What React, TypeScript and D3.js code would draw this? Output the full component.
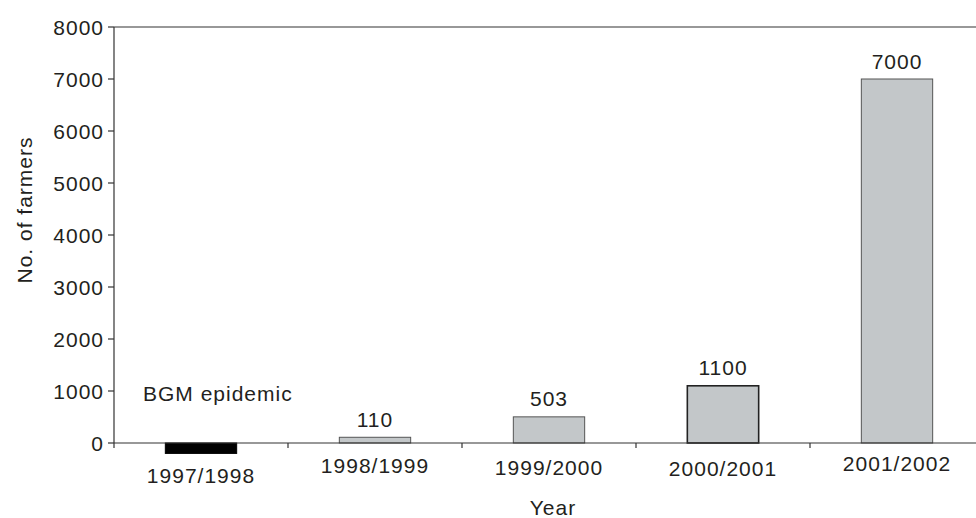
import React from "react";
import * as d3 from "d3";

const categories = ["1997/1998", "1998/1999", "1999/2000", "2000/2001", "2001/2002"];
const farmers = [-200, 110, 503, 1100, 7000];
const valueLabels = ["", "110", "503", "1100", "7000"];
const yTicks = [0, 1000, 2000, 3000, 4000, 5000, 6000, 7000, 8000];
const annotation = "BGM epidemic";
const xTitle = "Year";
const yTitle = "No. of farmers";

const W = 976;
const H = 518;
const X0 = 114;
const X1 = 984;
const Y0 = 443;
const Y1 = 27;
const labelDy = [9, -1, 1, 2, -3];
const FONT = "'Liberation Sans', Arial, sans-serif";
const TEXT = "#231f20";

export default function App() {
  const x = d3.scaleBand<string>().domain(categories).range([X0, X1]).paddingInner(0.59).paddingOuter(0.295);
  const y = d3.scaleLinear().domain([0, 8000]).range([Y0, Y1]);
  const step = x.step();
  const txt = { fontFamily: FONT, fontSize: 21, fill: TEXT, letterSpacing: 1 } as const;

  return (
    <svg width={W} height={H} style={{ position: "absolute", left: 0, top: 0, background: "#fff" }}>
      {categories.map((c, i) => {
        const v = farmers[i];
        const top = Math.min(y(v), y(0));
        const h = Math.abs(y(v) - y(0));
        const neg = v < 0;
        return (
          <rect
            key={c}
            x={x(c)!}
            y={top}
            width={x.bandwidth()}
            height={h}
            fill={neg ? "#000" : "#c3c7c9"}
            stroke={neg ? "#000" : i === 3 ? "#222" : "#555"}
            strokeWidth={i === 3 ? 1.6 : 1}
          />
        );
      })}
      <line x1={X0} x2={W} y1={Y1} y2={Y1} stroke="#333" strokeWidth={1.2} />
      <line x1={X0} x2={W} y1={Y0} y2={Y0} stroke="#333" strokeWidth={1.2} />
      <line x1={X0} x2={X0} y1={Y1} y2={Y0} stroke="#333" strokeWidth={1.2} />
      {yTicks.map((t) => (
        <g key={t}>
          <line x1={X0 - 6} x2={X0} y1={y(t)} y2={y(t)} stroke="#333" strokeWidth={1.2} />
          <text x={104} y={y(t) + 7.5} textAnchor="end" {...txt}>
            {t}
          </text>
        </g>
      ))}
      {d3.range(categories.length + 1).map((k) => (
        <line key={k} x1={X0 + k * step} x2={X0 + k * step} y1={Y0} y2={Y0 + 5} stroke="#333" strokeWidth={1.2} />
      ))}
      {categories.map((c, i) => (
        <text key={c} x={x(c)! + x.bandwidth() / 2} y={466 + 7.5 + labelDy[i]} textAnchor="middle" {...txt}>
          {c}
        </text>
      ))}
      {categories.map((c, i) =>
        valueLabels[i] ? (
          <text key={c} x={x(c)! + x.bandwidth() / 2} y={y(farmers[i]) - 10.5} textAnchor="middle" {...txt}>
            {valueLabels[i]}
          </text>
        ) : null
      )}
      <text x={143} y={401} {...txt}>
        {annotation}
      </text>
      <text x={553} y={515} textAnchor="middle" {...txt}>
        {xTitle}
      </text>
      <text transform={`translate(32,210) rotate(-90)`} textAnchor="middle" {...txt}>
        {yTitle}
      </text>
    </svg>
  );
}
